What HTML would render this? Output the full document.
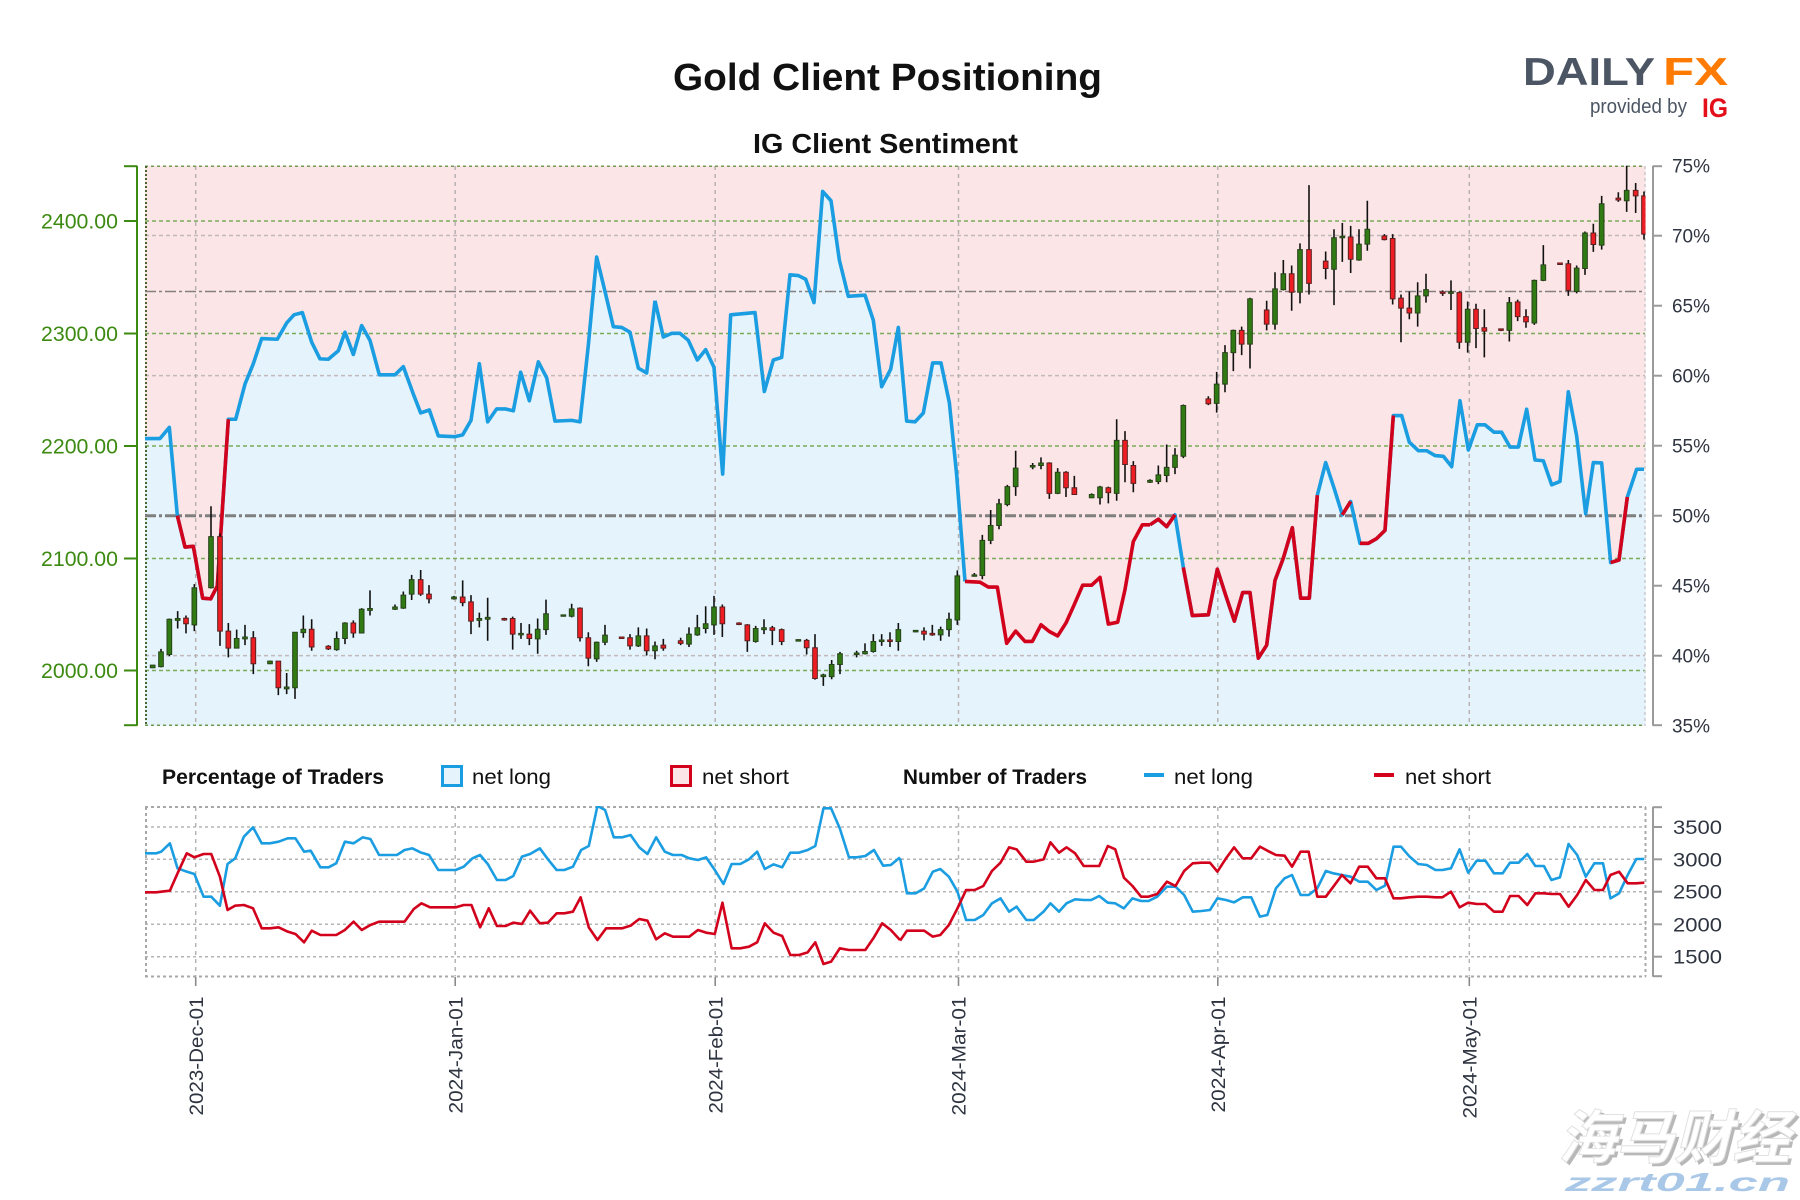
<!DOCTYPE html>
<html>
<head>
<meta charset="utf-8">
<style>
  html,body{margin:0;padding:0;background:#fff;}
  svg{display:block;}
  text{font-family:"Liberation Sans Narrow","Liberation Sans","Noto Sans CJK SC",sans-serif;}
</style>
</head>
<body>
<svg xmlns="http://www.w3.org/2000/svg" width="1800" height="1200" viewBox="0 0 1800 1200">
<defs>
  <clipPath id="cm"><rect x="145" y="165.7" width="1500.5" height="560"/></clipPath>
  <clipPath id="cb"><rect x="145" y="806" width="1501" height="171"/></clipPath>
</defs>
<rect width="1800" height="1200" fill="#fff"/>

<!-- Titles -->
<text x="887.5" y="90" text-anchor="middle" font-size="38" font-weight="bold" fill="#111" textLength="429" lengthAdjust="spacingAndGlyphs">Gold Client Positioning</text>
<text x="885.5" y="153" text-anchor="middle" font-size="28" font-weight="bold" fill="#111" textLength="265" lengthAdjust="spacingAndGlyphs">IG Client Sentiment</text>

<!-- Logo -->
<text x="1523" y="85" font-size="39" font-weight="bold" fill="#4b5563" textLength="132" lengthAdjust="spacingAndGlyphs" style="font-family:'Liberation Sans',sans-serif">DAILY</text>
<text x="1663" y="85" font-size="39" font-weight="bold" fill="#ff7a00" textLength="65" lengthAdjust="spacingAndGlyphs" style="font-family:'Liberation Sans',sans-serif">FX</text>
<text x="1590" y="113" font-size="20" fill="#4b5563" textLength="97" lengthAdjust="spacingAndGlyphs" style="font-family:'Liberation Sans',sans-serif">provided by</text>
<text x="1702" y="117" font-size="27" font-weight="bold" fill="#e3101b" textLength="26" lengthAdjust="spacingAndGlyphs" style="font-family:'Liberation Sans',sans-serif">IG</text>

<!-- ===== MAIN PLOT ===== -->
<rect x="145" y="165.7" width="1500.5" height="560" fill="#fbe5e6"/>
<g clip-path="url(#cm)">
  <g transform="translate(140,160) scale(0.333333,0.370370)" fill="#e5f3fc" stroke="none">
    <polygon points="15,1528 15,752 60,752 88,722 112,960 135,1045 160,1043 188,1183 212,1185 232,1150 265,700 287,700 315,605 340,550 365,482 412,484 440,440 462,418 487,412 515,492 540,537 565,538 595,515 615,465 640,525 665,447 690,487 718,580 765,580 790,558 820,632 842,683 868,675 895,745 945,747 968,742 993,703 1018,550 1043,707 1070,672 1095,672 1120,677 1142,573 1168,650 1195,545 1220,588 1245,705 1295,703 1320,707 1345,500 1370,262 1395,355 1420,450 1445,452 1470,465 1495,562 1520,575 1545,380 1548,380 1548,1528"/>
  </g>
  <g transform="translate(640,160) scale(0.333333,0.370370)" fill="#e5f3fc" stroke="none">
    <polygon points="42,1528 42,380 45,380 70,478 95,468 120,468 145,487 172,540 197,512 222,560 248,848 272,418 345,412 373,625 400,540 425,533 450,310 475,312 497,322 522,385 548,85 573,110 598,270 625,368 675,365 700,433 725,612 752,565 775,452 800,705 825,707 850,683 878,548 903,548 928,655 950,850 975,1138 1020,1140 1045,1153 1072,1153 1100,1305 1127,1272 1155,1300 1177,1300 1203,1255 1228,1273 1253,1285 1278,1250 1303,1200 1328,1148 1355,1148 1380,1127 1405,1253 1433,1248 1455,1160 1480,1030 1507,985 1533,985 1533,1528"/>
  </g>
  <g transform="translate(1140,160) scale(0.333333,0.370370)" fill="#e5f3fc" stroke="none">
    <polygon points="27,1528 27,985 30,985 55,970 80,990 105,958 130,1100 157,1230 205,1228 232,1105 257,1175 283,1245 308,1168 330,1168 355,1345 380,1310 405,1135 430,1075 457,993 482,1183 508,1183 532,905 557,817 583,888 607,958 632,922 660,1035 685,1035 710,1022 735,1000 760,690 785,690 808,762 835,785 860,785 885,798 910,800 935,828 960,650 985,783 1012,715 1035,715 1062,735 1085,735 1110,775 1135,775 1160,673 1185,810 1210,812 1235,877 1260,868 1285,626 1310,745 1337,955 1360,817 1385,818 1412,1087 1437,1080 1462,910 1490,835 1520,835 1520,1528"/>
  </g>
</g>

<!-- grid lines main -->
<g fill="none" stroke-width="1.5">
  <!-- grey pct dashed -->
  <g stroke="#c2b9ba" stroke-dasharray="4 3">
    <line x1="145" y1="235.5" x2="1645" y2="235.5"/>
    <line x1="145" y1="375.6" x2="1645" y2="375.6"/>
    <line x1="145" y1="655.6" x2="1645" y2="655.6"/>
  </g>
  <!-- vertical date lines -->
  <g stroke="#b8b2b3" stroke-dasharray="4 4">
    <line x1="195.7" y1="166" x2="195.7" y2="725"/>
    <line x1="455.2" y1="166" x2="455.2" y2="725"/>
    <line x1="715.2" y1="166" x2="715.2" y2="725"/>
    <line x1="958.5" y1="166" x2="958.5" y2="725"/>
    <line x1="1217.8" y1="166" x2="1217.8" y2="725"/>
    <line x1="1469.3" y1="166" x2="1469.3" y2="725"/>
  </g>
  <!-- green price dashed -->
  <g stroke="#7aab5a" stroke-dasharray="4 3">
    <line x1="145" y1="221" x2="1645" y2="221"/>
    <line x1="145" y1="333.5" x2="1645" y2="333.5"/>
    <line x1="145" y1="446" x2="1645" y2="446"/>
    <line x1="145" y1="558.5" x2="1645" y2="558.5"/>
    <line x1="145" y1="670.5" x2="1645" y2="670.5"/>
  </g>
  <!-- borders -->
  <line x1="145" y1="166.2" x2="1645" y2="166.2" stroke="#6f9a50" stroke-dasharray="3 3"/>
  <line x1="145" y1="725.2" x2="1645" y2="725.2" stroke="#6f9a50" stroke-dasharray="3 3"/>
  <line x1="146" y1="166" x2="146" y2="726" stroke="#46672e" stroke-width="2" stroke-dasharray="2 2"/>
  <line x1="1645" y1="166" x2="1645" y2="726" stroke="#c9c9c9" stroke-dasharray="3 3"/>
  <!-- dash-dot lines -->
  <line x1="145" y1="291.5" x2="1645" y2="291.5" stroke="#858080" stroke-width="1.6" stroke-dasharray="11 3 3 3"/>
  <line x1="145" y1="515.7" x2="1645" y2="515.7" stroke="#7f7f7f" stroke-width="3" stroke-dasharray="11 3 3 3"/>
</g>

<!-- sentiment line -->
<g clip-path="url(#cm)" fill="none" stroke-width="3.6" stroke-linejoin="round">
  <g transform="translate(140,160) scale(0.333333,0.370370)">
    <polyline vector-effect="non-scaling-stroke" stroke="#1b9de1" points="15,752 60,752 88,722 112,960 135,1045 160,1043 188,1183 212,1185 232,1150 265,700 287,700 315,605 340,550 365,482 412,484 440,440 462,418 487,412 515,492 540,537 565,538 595,515 615,465 640,525 665,447 690,487 718,580 765,580 790,558 820,632 842,683 868,675 895,745 945,747 968,742 993,703 1018,550 1043,707 1070,672 1095,672 1120,677 1142,573 1168,650 1195,545 1220,588 1245,705 1295,703 1320,707 1345,500 1370,262 1395,355 1420,450 1445,452 1470,465 1495,562 1520,575 1545,380"/>
    <polyline vector-effect="non-scaling-stroke" stroke="#d2011c" points="112,960 135,1045 160,1043 188,1183 212,1185 232,1150 265,700"/>
  </g>
  <g transform="translate(640,160) scale(0.333333,0.370370)">
    <polyline vector-effect="non-scaling-stroke" stroke="#1b9de1" points="45,380 70,478 95,468 120,468 145,487 172,540 197,512 222,560 248,848 272,418 345,412 373,625 400,540 425,533 450,310 475,312 497,322 522,385 548,85 573,110 598,270 625,368 675,365 700,433 725,612 752,565 775,452 800,705 825,707 850,683 878,548 903,548 928,655 950,850 975,1138"/>
    <polyline vector-effect="non-scaling-stroke" stroke="#d2011c" points="975,1138 1020,1140 1045,1153 1072,1153 1100,1305 1127,1272 1155,1300 1177,1300 1203,1255 1228,1273 1253,1285 1278,1250 1303,1200 1328,1148 1355,1148 1380,1127 1405,1253 1433,1248 1455,1160 1480,1030 1507,985 1530,985"/>
  </g>
  <g transform="translate(1140,160) scale(0.333333,0.370370)">
    <polyline vector-effect="non-scaling-stroke" stroke="#1b9de1" points="30,985 55,970 80,990 105,958 130,1100 157,1230 205,1228 232,1105 257,1175 283,1245 308,1168 330,1168 355,1345 380,1310 405,1135 430,1075 457,993 482,1183 508,1183 532,905 557,817 583,888 607,958 632,922 660,1035 685,1035 710,1022 735,1000 760,690 785,690 808,762 835,785 860,785 885,798 910,800 935,828 960,650 985,783 1012,715 1035,715 1062,735 1085,735 1110,775 1135,775 1160,673 1185,810 1210,812 1235,877 1260,868 1285,626 1310,745 1337,955 1360,817 1385,818 1412,1087 1437,1080 1462,910 1490,835 1512,835"/>
    <polyline vector-effect="non-scaling-stroke" stroke="#d2011c" points="30,985 55,970 80,990 105,958"/>
    <polyline vector-effect="non-scaling-stroke" stroke="#d2011c" points="130,1100 157,1230 205,1228 232,1105 257,1175 283,1245 308,1168 330,1168 355,1345 380,1310 405,1135 430,1075 457,993 482,1183 508,1183 532,905"/>
    <polyline vector-effect="non-scaling-stroke" stroke="#d2011c" points="607,958 632,922"/>
    <polyline vector-effect="non-scaling-stroke" stroke="#d2011c" points="660,1035 685,1035 710,1022 735,1000 760,690"/>
    <polyline vector-effect="non-scaling-stroke" stroke="#d2011c" points="1412,1087 1437,1080 1462,910"/>
  </g>
</g>

<!-- candles -->
<g clip-path="url(#cm)">
  <g transform="translate(140,160) scale(0.333333,0.370370)">
    <path vector-effect="non-scaling-stroke" fill="none" stroke="#111" stroke-width="1.6" d="M38 1363V1372 M63 1320V1370 M88 1238V1340 M113 1218V1265 M138 1230V1278 M163 1145V1272 M213 935V1157 M240 1008V1312 M265 1250V1343 M290 1268V1318 M315 1255V1310 M340 1272V1388 M390 1352V1361 M415 1353V1445 M440 1385V1442 M465 1275V1455 M490 1230V1290 M515 1240V1325 M565 1310V1323 M590 1273V1325 M615 1248V1307 M640 1243V1290 M665 1210V1277 M690 1162V1230 M765 1200V1215 M790 1165V1212 M815 1120V1188 M842 1107V1177 M867 1148V1197 M942 1177V1187 M968 1135V1205 M993 1175V1280 M1018 1222V1262 M1043 1182V1298 M1093 1236V1244 M1118 1233V1322 M1143 1250V1293 M1168 1253V1310 M1193 1238V1333 M1218 1187V1282 M1270 1227V1233 M1295 1198V1235 M1320 1208V1300 M1345 1275V1367 M1370 1300V1355 M1395 1255V1310 M1445 1287V1293 M1470 1280V1322 M1495 1262V1315 M1520 1265V1338 M1545 1300V1348"/>
    <path vector-effect="non-scaling-stroke" fill="#2f7a12" stroke="#28421a" stroke-width="1" d="M31 1364h14V1371h-14z M56 1328h14V1368h-14z M81 1240h14V1335h-14z M106 1238h14V1243h-14z M156 1155h14V1255h-14z M206 1017h14V1155h-14z M283 1292h14V1318h-14z M308 1288h14V1293h-14z M383 1353h14V1360h-14z M433 1423h14V1428h-14z M458 1275h14V1425h-14z M483 1267h14V1276h-14z M583 1292h14V1322h-14z M608 1250h14V1292h-14z M658 1213h14V1277h-14z M683 1211h14V1216h-14z M758 1207h14V1213h-14z M783 1175h14V1210h-14z M808 1133h14V1172h-14z M935 1180h14V1185h-14z M1011 1238h14V1243h-14z M1036 1235h14V1240h-14z M1136 1278h14V1282h-14z M1186 1267h14V1293h-14z M1211 1225h14V1268h-14z M1263 1228h14V1232h-14z M1288 1212h14V1232h-14z M1363 1302h14V1347h-14z M1388 1283h14V1302h-14z M1488 1285h14V1312h-14z M1538 1312h14V1325h-14z"/>
    <path vector-effect="non-scaling-stroke" fill="#ee1d23" stroke="#5a2020" stroke-width="1" d="M131 1237h14V1252h-14z M233 1017h14V1272h-14z M258 1272h14V1318h-14z M333 1290h14V1360h-14z M408 1353h14V1425h-14z M508 1267h14V1315h-14z M558 1313h14V1320h-14z M633 1250h14V1277h-14z M835 1133h14V1172h-14z M860 1172h14V1185h-14z M961 1180h14V1195h-14z M986 1193h14V1245h-14z M1086 1238h14V1242h-14z M1111 1238h14V1280h-14z M1161 1280h14V1292h-14z M1313 1210h14V1290h-14z M1338 1290h14V1345h-14z M1438 1288h14V1292h-14z M1463 1290h14V1312h-14z M1513 1285h14V1325h-14z"/>
  </g>
  <g transform="translate(640,160) scale(0.333333,0.370370)">
    <path vector-effect="non-scaling-stroke" fill="none" stroke="#111" stroke-width="1.6" d="M70 1293V1325 M122 1290V1310 M147 1262V1315 M172 1228V1285 M197 1205V1278 M222 1177V1282 M247 1200V1288 M297 1248V1256 M322 1253V1328 M347 1258V1303 M372 1240V1280 M397 1258V1310 M425 1265V1310 M475 1294V1300 M500 1293V1335 M525 1280V1403 M550 1387V1420 M575 1350V1402 M600 1328V1388 M650 1325V1343 M675 1305V1335 M700 1280V1330 M725 1280V1312 M750 1275V1315 M775 1250V1325 M827 1269V1275 M852 1262V1297 M877 1255V1285 M902 1260V1298 M927 1222V1287 M952 1108V1255 M1003 1115V1125 M1027 1012V1132 M1052 945V1037 M1077 915V997 M1102 877V935 M1127 785V907 M1178 818V835 M1203 803V835 M1228 816V915 M1253 832V902 M1278 840V910 M1303 853V903 M1355 900V913 M1380 880V930 M1405 882V927 M1430 700V920 M1455 732V870 M1480 813V897 M1530 862V872"/>
    <path vector-effect="non-scaling-stroke" fill="#2f7a12" stroke="#28421a" stroke-width="1" d="M140 1280h14V1307h-14z M165 1263h14V1282h-14z M190 1252h14V1265h-14z M215 1207h14V1255h-14z M340 1265h14V1300h-14z M365 1263h14V1268h-14z M468 1295h14V1299h-14z M543 1390h14V1395h-14z M568 1362h14V1395h-14z M593 1333h14V1362h-14z M643 1331h14V1335h-14z M668 1327h14V1333h-14z M693 1300h14V1327h-14z M718 1296h14V1300h-14z M768 1268h14V1300h-14z M820 1270h14V1274h-14z M895 1268h14V1282h-14z M920 1240h14V1268h-14z M945 1123h14V1242h-14z M996 1120h14V1124h-14z M1020 1027h14V1122h-14z M1045 987h14V1027h-14z M1070 928h14V987h-14z M1095 882h14V930h-14z M1120 832h14V882h-14z M1171 825h14V829h-14z M1196 818h14V825h-14z M1246 843h14V900h-14z M1348 903h14V912h-14z M1373 883h14V912h-14z M1423 757h14V900h-14z M1523 865h14V870h-14z"/>
    <path vector-effect="non-scaling-stroke" fill="#ee1d23" stroke="#5a2020" stroke-width="1" d="M63 1310h14V1318h-14z M115 1298h14V1305h-14z M240 1207h14V1252h-14z M290 1250h14V1254h-14z M315 1255h14V1298h-14z M390 1263h14V1270h-14z M418 1268h14V1300h-14z M493 1297h14V1317h-14z M518 1317h14V1400h-14z M743 1296h14V1300h-14z M845 1272h14V1280h-14z M870 1278h14V1282h-14z M1221 818h14V900h-14z M1271 843h14V885h-14z M1296 885h14V903h-14z M1398 885h14V898h-14z M1448 757h14V822h-14z M1473 825h14V873h-14z"/>
  </g>
  <g transform="translate(1140,160) scale(0.333333,0.370370)">
    <path vector-effect="non-scaling-stroke" fill="none" stroke="#111" stroke-width="1.6" d="M55 825V875 M80 768V870 M105 778V848 M130 660V805 M205 638V662 M230 572V682 M255 500V627 M280 458V570 M305 450V527 M330 372V563 M380 380V460 M405 303V458 M430 270V352 M455 285V407 M480 225V387 M507 68V363 M557 247V322 M582 187V392 M607 170V275 M632 178V305 M657 187V272 M682 110V245 M733 200V217 M758 200V390 M783 363V492 M808 355V430 M833 330V450 M858 307V385 M908 352V367 M933 325V405 M958 355V510 M983 382V520 M1008 388V508 M1033 403V533 M1083 455V462 M1108 370V490 M1133 377V435 M1158 403V453 M1183 323V445 M1210 230V327 M1260 277V283 M1285 270V367 M1310 285V360 M1335 193V310 M1360 172V248 M1385 97V242 M1435 87V113 M1460 10V140 M1487 62V143 M1512 85V215"/>
    <path vector-effect="non-scaling-stroke" fill="#2f7a12" stroke="#28421a" stroke-width="1" d="M48 850h14V868h-14z M73 830h14V852h-14z M98 797h14V830h-14z M123 663h14V800h-14z M223 605h14V657h-14z M248 520h14V605h-14z M273 460h14V520h-14z M323 375h14V497h-14z M398 348h14V443h-14z M423 307h14V350h-14z M473 242h14V357h-14z M575 210h14V295h-14z M600 206h14V210h-14z M650 227h14V270h-14z M675 187h14V227h-14z M826 367h14V413h-14z M851 350h14V367h-14z M926 356h14V360h-14z M976 403h14V492h-14z M1101 385h14V460h-14z M1176 325h14V440h-14z M1203 283h14V325h-14z M1303 292h14V355h-14z M1328 197h14V293h-14z M1378 118h14V230h-14z M1453 82h14V110h-14z"/>
    <path vector-effect="non-scaling-stroke" fill="#ee1d23" stroke="#5a2020" stroke-width="1" d="M198 645h14V658h-14z M298 460h14V497h-14z M373 405h14V443h-14z M448 307h14V357h-14z M500 242h14V333h-14z M550 273h14V293h-14z M625 208h14V268h-14z M726 205h14V215h-14z M751 212h14V375h-14z M776 373h14V400h-14z M801 400h14V413h-14z M901 356h14V360h-14z M951 358h14V492h-14z M1001 403h14V455h-14z M1026 453h14V462h-14z M1076 456h14V460h-14z M1126 383h14V423h-14z M1151 423h14V437h-14z M1253 278h14V282h-14z M1278 280h14V352h-14z M1353 197h14V228h-14z M1428 103h14V108h-14z M1480 82h14V97h-14z M1505 97h14V200h-14z"/>
  </g>
</g>

<!-- left price axis -->
<g stroke="#3c8a12" stroke-width="2" fill="none">
  <line x1="137" y1="165.7" x2="137" y2="725.7"/>
  <line x1="124" y1="166.2" x2="137" y2="166.2"/>
  <line x1="124" y1="725.2" x2="137" y2="725.2"/>
  <line x1="124" y1="221" x2="137" y2="221"/>
  <line x1="124" y1="333.5" x2="137" y2="333.5"/>
  <line x1="124" y1="446" x2="137" y2="446"/>
  <line x1="124" y1="558.5" x2="137" y2="558.5"/>
  <line x1="124" y1="670.5" x2="137" y2="670.5"/>
</g>
<g font-size="21" fill="#3c8a12" text-anchor="end">
  <text x="118" y="228.5" textLength="77" lengthAdjust="spacingAndGlyphs">2400.00</text>
  <text x="118" y="341" textLength="77" lengthAdjust="spacingAndGlyphs">2300.00</text>
  <text x="118" y="453.5" textLength="77" lengthAdjust="spacingAndGlyphs">2200.00</text>
  <text x="118" y="566" textLength="77" lengthAdjust="spacingAndGlyphs">2100.00</text>
  <text x="118" y="678" textLength="77" lengthAdjust="spacingAndGlyphs">2000.00</text>
</g>

<!-- right pct axis -->
<g stroke="#9a9a9a" stroke-width="2" fill="none">
  <line x1="1653" y1="165.7" x2="1653" y2="725.7"/>
  <line x1="1653" y1="166.2" x2="1662" y2="166.2"/>
  <line x1="1653" y1="235.7" x2="1662" y2="235.7"/>
  <line x1="1653" y1="305.7" x2="1662" y2="305.7"/>
  <line x1="1653" y1="375.7" x2="1662" y2="375.7"/>
  <line x1="1653" y1="445.7" x2="1662" y2="445.7"/>
  <line x1="1653" y1="515.7" x2="1662" y2="515.7"/>
  <line x1="1653" y1="585.7" x2="1662" y2="585.7"/>
  <line x1="1653" y1="655.7" x2="1662" y2="655.7"/>
  <line x1="1653" y1="725.2" x2="1662" y2="725.2"/>
</g>
<g font-size="19" fill="#2e3440">
  <text x="1672" y="172.7" textLength="38" lengthAdjust="spacingAndGlyphs">75%</text>
  <text x="1672" y="242.7" textLength="38" lengthAdjust="spacingAndGlyphs">70%</text>
  <text x="1672" y="312.7" textLength="38" lengthAdjust="spacingAndGlyphs">65%</text>
  <text x="1672" y="382.7" textLength="38" lengthAdjust="spacingAndGlyphs">60%</text>
  <text x="1672" y="452.7" textLength="38" lengthAdjust="spacingAndGlyphs">55%</text>
  <text x="1672" y="522.7" textLength="38" lengthAdjust="spacingAndGlyphs">50%</text>
  <text x="1672" y="592.7" textLength="38" lengthAdjust="spacingAndGlyphs">45%</text>
  <text x="1672" y="662.7" textLength="38" lengthAdjust="spacingAndGlyphs">40%</text>
  <text x="1672" y="732.7" textLength="38" lengthAdjust="spacingAndGlyphs">35%</text>
</g>

<!-- ===== LEGEND ===== -->
<g font-size="21" fill="#111">
  <text x="162" y="784" font-weight="bold" textLength="222" lengthAdjust="spacingAndGlyphs">Percentage of Traders</text>
  <rect x="442.5" y="766.5" width="19" height="19" fill="#e5f3fc" stroke="#1b9de1" stroke-width="3"/>
  <text x="472" y="784" textLength="79" lengthAdjust="spacingAndGlyphs">net long</text>
  <rect x="671.5" y="766.5" width="19" height="19" fill="#fbe5e6" stroke="#d2011c" stroke-width="3"/>
  <text x="702" y="784" textLength="87" lengthAdjust="spacingAndGlyphs">net short</text>
  <text x="903" y="784" font-weight="bold" textLength="184" lengthAdjust="spacingAndGlyphs">Number of Traders</text>
  <line x1="1144" y1="775" x2="1164" y2="775" stroke="#1b9de1" stroke-width="4"/>
  <text x="1174" y="784" textLength="79" lengthAdjust="spacingAndGlyphs">net long</text>
  <line x1="1374" y1="775" x2="1394" y2="775" stroke="#d2011c" stroke-width="4"/>
  <text x="1405" y="784" textLength="86" lengthAdjust="spacingAndGlyphs">net short</text>
</g>

<!-- ===== BOTTOM PANEL ===== -->
<g fill="none" stroke-width="1.5">
  <g stroke="#b5b5b5" stroke-dasharray="4 4">
    <line x1="195.7" y1="807" x2="195.7" y2="976"/>
    <line x1="455.2" y1="807" x2="455.2" y2="976"/>
    <line x1="715.2" y1="807" x2="715.2" y2="976"/>
    <line x1="958.5" y1="807" x2="958.5" y2="976"/>
    <line x1="1217.8" y1="807" x2="1217.8" y2="976"/>
    <line x1="1469.3" y1="807" x2="1469.3" y2="976"/>
  </g>
  <g stroke="#b5b5b5" stroke-dasharray="3 3">
    <line x1="145" y1="827" x2="1646" y2="827"/>
    <line x1="145" y1="859.3" x2="1646" y2="859.3"/>
    <line x1="145" y1="891.7" x2="1646" y2="891.7"/>
    <line x1="145" y1="924.3" x2="1646" y2="924.3"/>
    <line x1="145" y1="956.7" x2="1646" y2="956.7"/>
  </g>
  <g stroke="#a8a8a8" stroke-width="2" stroke-dasharray="3 3">
    <line x1="145" y1="807" x2="1646" y2="807"/>
    <line x1="145" y1="976.5" x2="1646" y2="976.5"/>
    <line x1="146" y1="807" x2="146" y2="976.5"/>
    <line x1="1645.5" y1="807" x2="1645.5" y2="976.5"/>
  </g>
</g>
<g clip-path="url(#cb)" fill="none" stroke-width="2.6" stroke-linejoin="round">
  <g transform="translate(100,740) scale(0.510204,0.333333)">
    <polyline vector-effect="non-scaling-stroke" stroke="#1b9de1" points="88,340 110,340 120,335 137,310 152,385 170,395 185,402 203,470 218,470 235,497 250,372 265,355 282,290 300,262 317,310 333,310 350,305 368,295 383,295 400,335 413,332 432,382 448,382 463,370 480,305 497,310 515,292 530,297 547,345 565,345 582,345 597,330 612,325 628,337 645,345 663,390 680,390 697,390 713,380 730,355 745,345 760,372 778,420 795,420 810,408 827,350 843,342 862,325 878,358 895,390 910,390 927,380 943,330 958,318 975,198 990,210 1007,292 1023,292 1040,285 1057,322 1073,342 1090,292 1107,335 1123,345 1140,345 1155,355 1172,360 1188,352 1205,390 1222,432 1238,372 1255,372 1272,358 1288,335 1303,387 1320,373 1337,382 1353,338 1370,338 1387,330 1402,318 1418,205 1433,205 1450,265 1468,352 1483,352 1500,348 1517,330 1535,377 1550,375 1568,352"/>
    <polyline vector-effect="non-scaling-stroke" stroke="#d2011c" points="88,457 110,457 120,455 137,452 152,400 170,340 185,352 203,342 218,342 235,410 250,510 265,497 282,495 300,505 317,565 333,565 350,562 368,575 383,582 400,607 415,572 432,585 448,585 463,585 480,570 497,545 513,570 530,555 547,545 565,545 582,545 597,545 615,507 630,490 647,502 663,502 680,502 697,502 713,495 728,495 745,562 762,505 778,558 795,558 810,548 827,552 843,512 862,550 878,548 895,520 910,520 927,515 942,472 958,562 975,600 992,565 1007,565 1023,565 1040,557 1057,537 1073,542 1090,598 1107,580 1123,590 1140,590 1155,590 1172,570 1188,578 1205,582 1220,488 1238,625 1255,625 1272,620 1288,607 1303,550 1320,578 1337,588 1353,645 1370,645 1387,637 1402,607 1418,672 1433,665 1450,625 1468,630 1483,630 1500,630 1517,592 1533,550 1550,570 1568,600"/>
  </g>
  <g transform="translate(900.1,740) scale(0.5738,0.333333)">
    <polyline vector-effect="non-scaling-stroke" stroke="#1b9de1" points="0,355 12,460 27,460 42,445 57,395 70,387 85,410 100,455 115,540 130,540 145,525 160,490 175,475 190,515 203,500 220,540 233,540 250,515 262,490 277,515 290,490 305,478 320,480 333,480 347,468 362,488 375,490 390,505 405,475 420,483 433,483 448,470 465,440 480,440 495,465 510,515 525,513 540,510 553,475 568,480 582,487 597,472 612,472 627,530 640,525 655,445 670,415 683,405 698,465 712,465 727,445 742,393 755,400 770,405 785,410 800,425 815,425 830,450 845,437 860,320 873,320 888,350 903,372 918,375 933,390 945,390 960,385 975,328 990,398 1005,362 1020,362 1035,400 1050,400 1063,368 1078,368 1093,342 1107,378 1122,378 1135,420 1150,412 1165,312 1180,345 1195,410 1210,370 1225,370 1238,475 1253,460 1268,405 1283,357 1297,357"/>
    <polyline vector-effect="non-scaling-stroke" stroke="#d2011c" points="0,602 12,572 27,572 42,572 57,590 70,585 85,555 100,505 115,450 130,450 145,438 160,393 175,368 190,322 203,328 220,365 233,365 250,358 262,307 277,338 290,322 305,340 320,378 333,378 347,378 362,318 375,328 390,413 405,438 420,470 433,470 448,462 465,425 480,438 495,393 510,370 525,368 540,368 553,395 568,355 582,322 597,355 612,355 627,320 640,332 655,345 670,347 683,380 698,335 712,335 727,470 742,470 755,440 770,405 785,430 800,380 815,380 830,415 845,415 860,475 873,475 888,472 903,470 918,470 933,472 945,472 960,455 975,502 990,488 1005,492 1020,492 1035,515 1050,515 1063,468 1078,468 1093,495 1107,460 1122,460 1135,462 1150,462 1165,500 1180,465 1195,420 1210,450 1225,450 1238,405 1253,395 1268,430 1283,430 1297,428"/>
  </g>
</g>

<!-- bottom right axis -->
<g stroke="#9a9a9a" stroke-width="2" fill="none">
  <line x1="1653" y1="806.7" x2="1653" y2="976.7"/>
  <line x1="1653" y1="807.2" x2="1662" y2="807.2"/>
  <line x1="1653" y1="827" x2="1662" y2="827"/>
  <line x1="1653" y1="859.3" x2="1662" y2="859.3"/>
  <line x1="1653" y1="891.7" x2="1662" y2="891.7"/>
  <line x1="1653" y1="924.3" x2="1662" y2="924.3"/>
  <line x1="1653" y1="956.7" x2="1662" y2="956.7"/>
  <line x1="1653" y1="976.2" x2="1662" y2="976.2"/>
</g>
<g font-size="19" fill="#2e3440">
  <text x="1673" y="834" textLength="49" lengthAdjust="spacingAndGlyphs">3500</text>
  <text x="1673" y="866.3" textLength="49" lengthAdjust="spacingAndGlyphs">3000</text>
  <text x="1673" y="898.7" textLength="49" lengthAdjust="spacingAndGlyphs">2500</text>
  <text x="1673" y="931.3" textLength="49" lengthAdjust="spacingAndGlyphs">2000</text>
  <text x="1673" y="963.7" textLength="49" lengthAdjust="spacingAndGlyphs">1500</text>
</g>

<!-- x ticks -->
<g stroke="#8a8a8a" stroke-width="1.6">
  <line x1="195.7" y1="976.7" x2="195.7" y2="986"/>
  <line x1="455.2" y1="976.7" x2="455.2" y2="986"/>
  <line x1="715.2" y1="976.7" x2="715.2" y2="986"/>
  <line x1="958.5" y1="976.7" x2="958.5" y2="986"/>
  <line x1="1217.8" y1="976.7" x2="1217.8" y2="986"/>
  <line x1="1469.3" y1="976.7" x2="1469.3" y2="986"/>
</g>
<g font-size="19" fill="#2e3440" text-anchor="end">
  <text transform="translate(203,996.5) rotate(-90)" textLength="119" lengthAdjust="spacingAndGlyphs">2023-Dec-01</text>
  <text transform="translate(462.5,996.5) rotate(-90)" textLength="117" lengthAdjust="spacingAndGlyphs">2024-Jan-01</text>
  <text transform="translate(722.5,996.5) rotate(-90)" textLength="117" lengthAdjust="spacingAndGlyphs">2024-Feb-01</text>
  <text transform="translate(965.5,996.5) rotate(-90)" textLength="119" lengthAdjust="spacingAndGlyphs">2024-Mar-01</text>
  <text transform="translate(1225,996.5) rotate(-90)" textLength="116" lengthAdjust="spacingAndGlyphs">2024-Apr-01</text>
  <text transform="translate(1476.5,996.5) rotate(-90)" textLength="122" lengthAdjust="spacingAndGlyphs">2024-May-01</text>
</g>

<!-- watermark -->
<g font-style="italic" font-weight="bold">
  <text x="1561" y="1161" font-size="58" fill="#b8b8b8" textLength="232" lengthAdjust="spacingAndGlyphs" style="font-family:'Liberation Sans','Noto Sans CJK SC',sans-serif">海马财经</text>
  <text x="1558" y="1158" font-size="58" fill="#ffffff" stroke="#e2e2e2" stroke-width="1" textLength="232" lengthAdjust="spacingAndGlyphs" style="font-family:'Liberation Sans','Noto Sans CJK SC',sans-serif">海马财经</text>
  <text x="1565" y="1191" font-size="26" fill="#a9c8e8" textLength="225" lengthAdjust="spacingAndGlyphs" style="font-family:'Liberation Sans',sans-serif">zzrt01.cn</text>
</g>
</svg>
</body>
</html>
